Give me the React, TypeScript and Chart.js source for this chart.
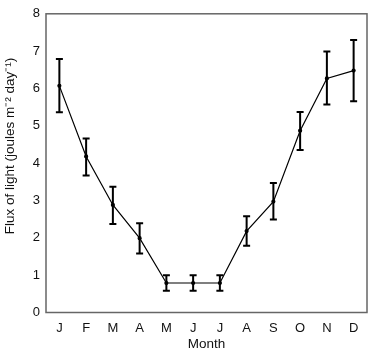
import React, { useEffect, useRef } from "react";
import { Chart, registerables } from "chart.js";

Chart.register(...registerables);

const months = ["J", "F", "M", "A", "M", "J", "J", "A", "S", "O", "N", "D"];
const flux = [6.07, 4.18, 2.88, 1.99, 0.79, 0.79, 0.79, 2.18, 2.97, 4.87, 6.27, 6.48];
const errLow = [5.36, 3.67, 2.37, 1.58, 0.58, 0.58, 0.58, 1.79, 2.49, 4.35, 5.57, 5.66];
const errHigh = [6.79, 4.66, 3.37, 2.39, 1.0, 1.0, 1.0, 2.58, 3.47, 5.37, 6.99, 7.3];
const yTicks = [0, 1, 2, 3, 4, 5, 6, 7, 8];

const FONT = "'Liberation Sans', Arial, Helvetica, sans-serif";

const customPlugin = {
  id: "custom",
  afterDatasetsDraw(chart: any) {
    const ctx = chart.ctx;
    const xs = chart.scales.x;
    const ys = chart.scales.y;
    const a = chart.chartArea;
    ctx.save();
    // error bars
    ctx.strokeStyle = "#000";
    ctx.lineWidth = 2;
    for (let i = 0; i < months.length; i++) {
      const x = xs.getPixelForValue(i);
      const yl = ys.getPixelForValue(errLow[i]);
      const yh = ys.getPixelForValue(errHigh[i]);
      ctx.beginPath();
      ctx.moveTo(x, yl);
      ctx.lineTo(x, yh);
      ctx.moveTo(x - 3.5, yl);
      ctx.lineTo(x + 3.5, yl);
      ctx.moveTo(x - 3.5, yh);
      ctx.lineTo(x + 3.5, yh);
      ctx.stroke();
    }
    // frame
    ctx.strokeStyle = "#666";
    ctx.lineWidth = 1.5;
    ctx.strokeRect(a.left, a.top, a.right - a.left, a.bottom - a.top);
    // titles
    ctx.fillStyle = "#111";
    ctx.font = `13.5px ${FONT}`;
    ctx.textAlign = "center";
    ctx.textBaseline = "middle";
    ctx.fillText("Month", (a.left + a.right) / 2, 344);
    ctx.translate(10, 146);
    ctx.rotate(-Math.PI / 2);
    ctx.fillText("Flux of light (joules m\u207B\u00B2 day\u207B\u00B9)", 0, 0);
    ctx.restore();
  },
};

export default function App() {
  const ref = useRef<HTMLCanvasElement | null>(null);
  useEffect(() => {
    if (!ref.current) return;
    const chart = new Chart(ref.current, {
      type: "line",
      data: {
        labels: months,
        datasets: [
          {
            data: flux,
            borderColor: "#000",
            backgroundColor: "#000",
            borderWidth: 1.2,
            pointRadius: 1.5,
            pointHoverRadius: 1.5,
            tension: 0,
          },
        ],
      },
      options: {
        animation: false,
        responsive: false,
        events: [],
        layout: { padding: { top: 7.5, right: 4, left: 0, bottom: 0 } },
        plugins: { legend: { display: false }, tooltip: { enabled: false } },
        scales: {
          x: {
            type: "category",
            offset: true,
            grid: { display: false, drawTicks: false },
            border: { display: false },
            ticks: { color: "#111", padding: 8, font: { family: FONT, size: 13 }, maxRotation: 0 },
            afterFit: (s: any) => {
              s.height = 39.5;
            },
          },
          y: {
            min: 0,
            max: 8,
            afterBuildTicks: (s: any) => {
              s.ticks = yTicks.map((v) => ({ value: v }));
            },
            grid: { display: false, drawTicks: false },
            border: { display: false },
            ticks: { color: "#111", padding: 6, font: { family: FONT, size: 13 } },
            afterFit: (s: any) => {
              s.width = 46;
            },
          },
        },
      },
      plugins: [customPlugin],
    });
    return () => chart.destroy();
  }, []);
  return (
    <div style={{ position: "fixed", left: 0, top: 0, width: 371, height: 352, background: "#fff" }}>
      <canvas ref={ref} width={371} height={352} style={{ width: 371, height: 352 }} />
    </div>
  );
}
